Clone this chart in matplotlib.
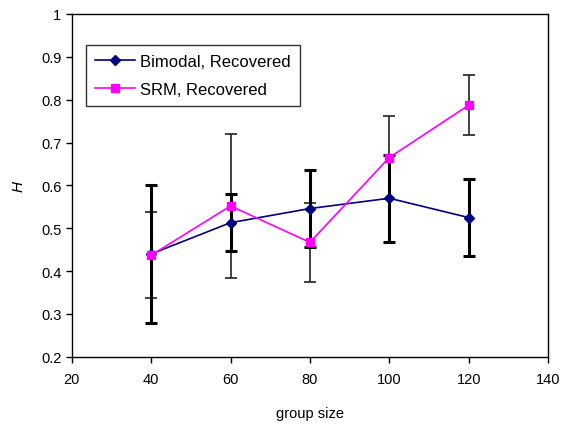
import matplotlib
matplotlib.use("Agg")
import matplotlib.pyplot as plt

plt.rcParams['font.family'] = ['Liberation Sans', 'DejaVu Sans']

group_size = [40, 60, 80, 100, 120]
bimodal = [0.440, 0.513, 0.546, 0.570, 0.525]
bimodal_err = [0.160, 0.066, 0.090, 0.102, 0.090]
srm = [0.437, 0.552, 0.467, 0.665, 0.787]
srm_err = [0.100, 0.167, 0.093, 0.097, 0.070]

fig = plt.figure(figsize=(5.65, 4.27), dpi=100)
ax = fig.add_axes([0.127, 0.162, 0.843, 0.803])

ax.errorbar(group_size, srm, yerr=srm_err, fmt='none', ecolor='#333333',
            elinewidth=1.3, capsize=4, capthick=1.3, zorder=2)
ax.errorbar(group_size, bimodal, yerr=bimodal_err, fmt='none', ecolor='black',
            elinewidth=2.2, capsize=4.5, capthick=2.2, zorder=2)
ax.plot(group_size, bimodal, color='#000080', marker='D', markersize=5,
        linewidth=1.2, label='Bimodal, Recovered', zorder=3)
ax.plot(group_size, srm, color='#FF00FF', marker='s', markersize=5.5,
        linewidth=1.2, label='SRM, Recovered', zorder=4)

ax.set_xlim(20, 140)
ax.set_ylim(0.2, 1.0)
ax.set_xticks([20, 40, 60, 80, 100, 120, 140])
ax.set_yticks([0.2, 0.3, 0.4, 0.5, 0.6, 0.7, 0.8, 0.9, 1.0])
ax.set_yticklabels(['0.2', '0.3', '0.4', '0.5', '0.6', '0.7', '0.8', '0.9', '1'])
ax.tick_params(direction='out', length=4, width=1, labelsize=10.5, colors='black')
ax.tick_params(axis='x', pad=7)
for s in ax.spines.values():
    s.set_linewidth(1)
    s.set_color('black')

ax.set_xlabel('group size', fontsize=10.5, labelpad=14)
ax.set_ylabel('H', fontsize=11, style='italic', labelpad=11)

leg = ax.legend(loc='upper left', bbox_to_anchor=(0.029, 0.91), borderaxespad=0,
                fontsize=12, frameon=True, fancybox=False, edgecolor='black',
                borderpad=0.55, handlelength=2.4, handletextpad=0.3,
                labelspacing=0.8)
leg.get_frame().set_linewidth(1)

fig.savefig('out.png', dpi=100)
